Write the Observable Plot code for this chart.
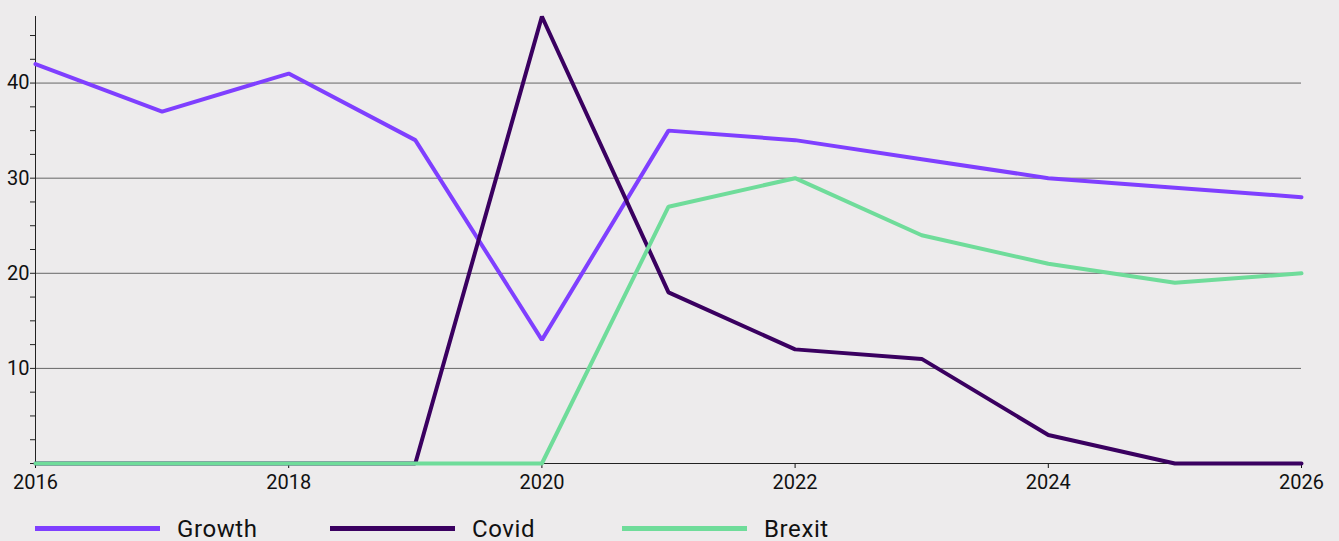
<!DOCTYPE html>
<html>
<head>
<meta charset="utf-8">
<script src="https://cdn.jsdelivr.net/npm/d3@7"></script>
<script src="https://cdn.jsdelivr.net/npm/@observablehq/plot@0.6"></script>
<style>
  html, body { margin: 0; padding: 0; background: #edebec; }
  body { width: 1339px; height: 541px; overflow: hidden; font-family: Roboto, "DejaVu Sans", sans-serif; }
  #chart svg { display: block; }
  #chart svg text { font-size: 20px; font-family: Roboto, sans-serif; fill: #111; }
  #legend { position: relative; height: 41px; margin-top: 8px; }
  .item { position: absolute; top: 0; height: 41px; display: flex; align-items: center; font-size: 24px; letter-spacing: 0.6px; color: #111; }
  .sw { width: 125px; height: 5px; margin-right: 17px; }
</style>
</head>
<body>
<div id="chart"></div>
<div id="legend"></div>
<script>
const years = [2016, 2017, 2018, 2019, 2020, 2021, 2022, 2023, 2024, 2025, 2026];
const growth = [42, 37, 41, 34, 13, 35, 34, 32, 30, 29, 28];
const covid = [0, 0, 0, 0, 47, 18, 12, 11, 3, 0, 0];
const brexit = [0, 0, 0, 0, 0, 27, 30, 24, 21, 19, 20];
const seriesNames = ["Growth", "Covid", "Brexit"];
const seriesColors = ["#7f3fff", "#3a0060", "#6fdc9a"];
const xTicks = [2016, 2018, 2020, 2022, 2024, 2026];
const yLabelTicks = [10, 20, 30, 40];
const yMinorTicks = d3.range(0, 47, 2.5);

const seriesValues = [growth, covid, brexit];
const data = [];
seriesNames.forEach((name, i) => {
  years.forEach((y, j) => data.push({series: name, year: y, value: seriesValues[i][j]}));
});

const chart = Plot.plot({
  width: 1339,
  height: 500,
  marginLeft: 35,
  marginRight: 38,
  marginTop: 16,
  marginBottom: 37,
  style: {background: "#edebec", fontFamily: "Roboto, sans-serif", fontSize: "20px", color: "#111"},
  x: {domain: [2016, 2026]},
  y: {domain: [0, 47]},
  color: {domain: seriesNames, range: seriesColors},
  marks: [
    Plot.ruleY(yLabelTicks, {stroke: "#666", strokeWidth: 1}),
    Plot.axisY({ticks: yMinorTicks, tickFormat: () => "", tickSize: 5, stroke: "#222", label: null}),
    Plot.axisY({ticks: yLabelTicks, tickSize: 0, tickPadding: 6, label: null}),
    Plot.axisX({ticks: xTicks, tickFormat: d => String(d), tickSize: 5, tickPadding: 6, label: null}),
    Plot.ruleX([2016], {y1: 0, y2: 47, stroke: "#222"}),
    Plot.ruleY([0], {stroke: "#222"}),
    ...seriesNames.map(s => Plot.line(data.filter(d => d.series === s), {
      x: "year", y: "value", stroke: "series", strokeWidth: 4, strokeLinejoin: "miter"
    }))
  ]
});
document.getElementById("chart").appendChild(chart);

const legend = document.getElementById("legend");
const lefts = [35, 330, 622];
seriesNames.forEach((name, i) => {
  const item = document.createElement("div");
  item.className = "item";
  item.style.left = lefts[i] + "px";
  item.innerHTML = `<span class="sw" style="background:${seriesColors[i]}"></span><span>${name}</span>`;
  legend.appendChild(item);
});
</script>
</body>
</html>
